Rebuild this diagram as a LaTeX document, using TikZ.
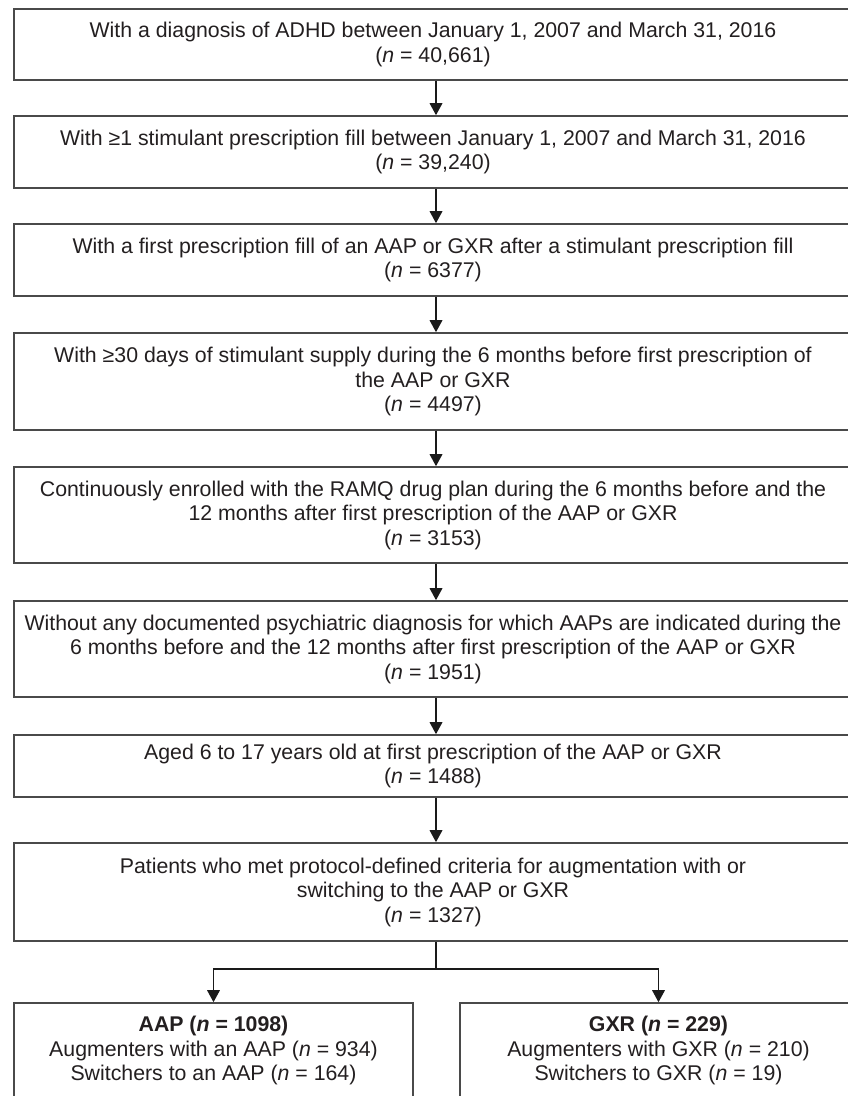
\documentclass[tikz,border=0pt]{standalone}
\usepackage{fontspec}
\setmainfont{Liberation Sans}
\usetikzlibrary{arrows.meta}
\definecolor{boxline}{HTML}{4A4A4A}
\definecolor{arrline}{HTML}{1A1A1A}
\definecolor{txt}{HTML}{231F20}
\tikzset{
  flowbox/.style={draw=boxline, line width=1.6pt, fill=white, align=center,
    text=txt, inner sep=3pt,
    font=\fontsize{21.3}{24.5}\selectfont},
  mainbox/.style={flowbox, minimum width=838pt},
  subbox/.style={flowbox, minimum width=399pt, minimum height=95pt},
  flowarrow/.style={draw=arrline, line width=1.8pt, -{Triangle[length=12pt,width=12.5pt]}},
  flowline/.style={draw=arrline, line width=1.8pt}
}
\newcommand{\nn}{\textit{n}}
\begin{document}
\begin{tikzpicture}[x=1pt,y=-1pt]
\useasboundingbox (0,0) rectangle (848,1096);
\fill[white] (0,0) rectangle (848,1096);
\coordinate (ax) at (436,0);

\node[mainbox, minimum height=71pt] (b1) at (433,44.5)
  {With a diagnosis of ADHD between January 1, 2007 and March 31, 2016\\(\nn{} = 40,661)};
\node[mainbox, minimum height=72pt] (b2) at (433,152)
  {With ≥1 stimulant prescription fill between January 1, 2007 and March 31, 2016\\(\nn{} = 39,240)};
\node[mainbox, minimum height=72pt] (b3) at (433,260)
  {With a first prescription fill of an AAP or GXR after a stimulant prescription fill\\(\nn{} = 6377)};
\node[mainbox, minimum height=97pt] (b4) at (433,381.5)
  {With ≥30 days of stimulant supply during the 6 months before first prescription of\\the AAP or GXR\\(\nn{} = 4497)};
\node[mainbox, minimum height=96pt] (b5) at (433,515)
  {Continuously enrolled with the RAMQ drug plan during the 6 months before and the\\12 months after first prescription of the AAP or GXR\\(\nn{} = 3153)};
\node[mainbox, minimum height=96pt] (b6) at (433,649)
  {Without any documented psychiatric diagnosis for which AAPs are indicated during the\\6 months before and the 12 months after first prescription of the AAP or GXR\\(\nn{} = 1951)};
\node[mainbox, minimum height=62pt] (b7) at (433,766)
  {Aged 6 to 17 years old at first prescription of the AAP or GXR\\(\nn{} = 1488)};
\node[mainbox, minimum height=98pt] (b8) at (433,892)
  {Patients who met protocol-defined criteria for augmentation with or\\switching to the AAP or GXR\\(\nn{} = 1327)};

\node[subbox] (aap) at (213.5,1050.5)
  {\textbf{AAP (\textit{\textbf{n}} = 1098)}\\Augmenters with an AAP (\nn{} = 934)\\Switchers to an AAP (\nn{} = 164)};
\node[subbox, minimum width=397pt] (gxr) at (658.5,1050.5)
  {\textbf{GXR (\textit{\textbf{n}} = 229)}\\Augmenters with GXR (\nn{} = 210)\\Switchers to GXR (\nn{} = 19)};

\draw[flowarrow] (b1.south -| ax) -- (b2.north -| ax);
\draw[flowarrow] (b2.south -| ax) -- (b3.north -| ax);
\draw[flowarrow] (b3.south -| ax) -- (b4.north -| ax);
\draw[flowarrow] (b4.south -| ax) -- (b5.north -| ax);
\draw[flowarrow] (b5.south -| ax) -- (b6.north -| ax);
\draw[flowarrow] (b6.south -| ax) -- (b7.north -| ax);
\draw[flowarrow] (b7.south -| ax) -- (b8.north -| ax);

\coordinate (split) at (436,969);
\draw[flowline] (b8.south -| ax) -- (split);
\draw[flowarrow] (split) -| (aap.north);
\draw[flowarrow] (split) -| (gxr.north);
\end{tikzpicture}
\end{document}
